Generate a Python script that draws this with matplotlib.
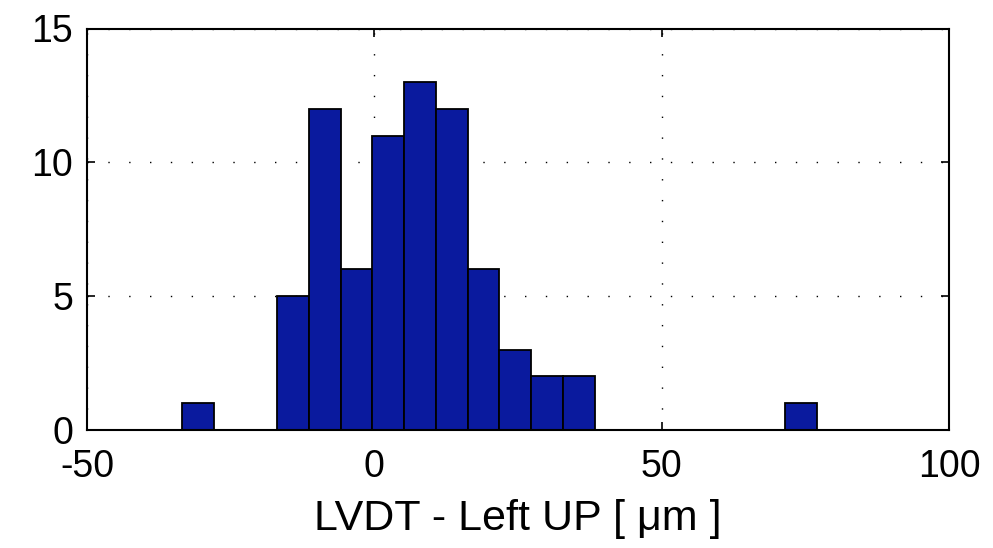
import numpy as np
import matplotlib
matplotlib.use("Agg")
import matplotlib.pyplot as plt

plt.rcParams['font.family'] = ['Liberation Sans', 'DejaVu Sans']

# Histogram data (20 bins)
counts = [1, 0, 0, 5, 12, 6, 11, 13, 12, 6, 3, 2, 2, 0, 0, 0, 0, 0, 0, 1]
bin_lo, bin_hi = -33.5, 77.0
xticks = [-50, 0, 50, 100]
yticks = [0, 5, 10, 15]
xlabel = "LVDT - Left UP [ \u03bcm ]"

edges = np.linspace(bin_lo, bin_hi, len(counts) + 1)

fig = plt.figure(figsize=(9.93, 5.48), dpi=100)
ax = fig.add_axes([87/993, 1 - 430/548, (949-87)/993, (430-28.5)/548])

ax.hist(edges[:-1], bins=edges, weights=counts, color='#0A1A9E',
        edgecolor='black', linewidth=1.3, zorder=3)

ax.set_xlim(-50, 100)
ax.set_ylim(0, 15)
ax.set_xticks(xticks)
ax.set_yticks(yticks)
ax.set_xticklabels([str(t) for t in xticks])
ax.set_yticklabels([str(t) for t in yticks])
ax.tick_params(direction='in', length=6, width=1.2, labelsize=27,
               top=True, right=True, colors='black')
ax.tick_params(axis='x', pad=14)
ax.tick_params(axis='y', pad=10)
ax.grid(True, linestyle=(0, (1, 14)), color='black', linewidth=1.0, zorder=1)
for s in ax.spines.values():
    s.set_linewidth(1.5)
    s.set_zorder(5)
ax.set_xlabel(xlabel, fontsize=31, labelpad=10)

fig.savefig("out.png", dpi=100)
